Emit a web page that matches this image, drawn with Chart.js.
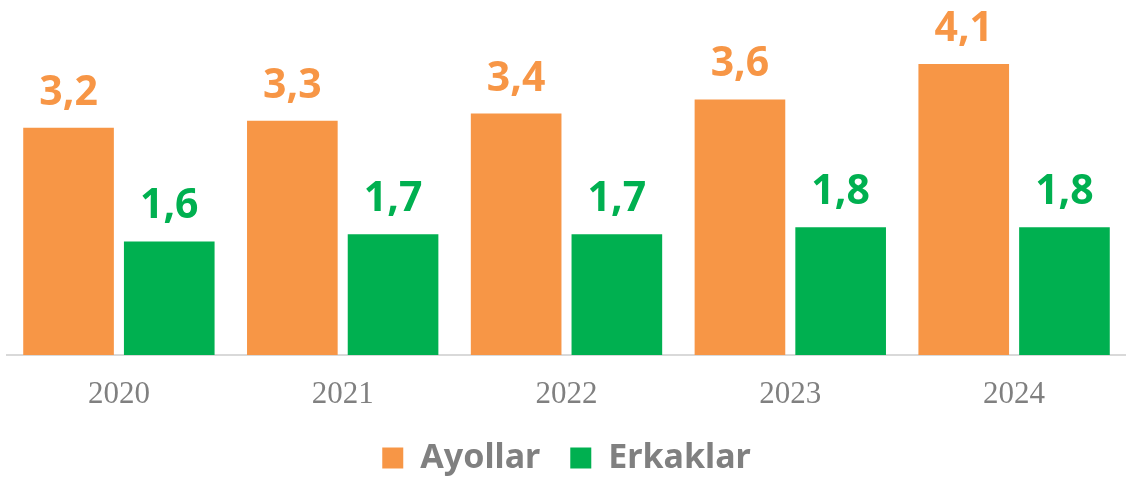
<!DOCTYPE html>
<html>
<head>
<meta charset="utf-8">
<script src="https://cdn.jsdelivr.net/npm/chart.js@4"></script>
<style>
  html, body { margin: 0; padding: 0; background: #fff; }
  #wrap { width: 1126px; height: 479px; }
</style>
</head>
<body>
<div id="wrap"><canvas id="myChart"></canvas></div>
<script>
var years = ['2020', '2021', '2022', '2023', '2024'];
var ayollar = [3.2, 3.3, 3.4, 3.6, 4.1];
var erkaklar = [1.6, 1.7, 1.7, 1.8, 1.8];

var orange = '#F79646';
var green = '#00B050';

// draws the value above each bar, with a decimal comma
var barLabels = {
    id: 'barLabels',
    afterDatasetsDraw: function (chart) {
        var ctx = chart.ctx;
        ctx.save();
        ctx.font = 'bold 41px "Noto Sans"';
        ctx.textAlign = 'center';
        ctx.textBaseline = 'alphabetic';
        chart.data.datasets.forEach(function (ds, i) {
            chart.getDatasetMeta(i).data.forEach(function (bar, j) {
                ctx.fillStyle = ds.backgroundColor;
                ctx.fillText(String(ds.data[j]).replace('.', ','), bar.x, bar.y - 23);
            });
        });
        ctx.restore();
    }
};

var ctx = document.getElementById('myChart').getContext('2d');
var myChart = new Chart(ctx, {
    type: 'bar',
    data: {
        labels: years,
        datasets: [{
            label: 'Ayollar',
            data: ayollar,
            backgroundColor: orange,
            borderWidth: 0
        }, {
            label: 'Erkaklar',
            data: erkaklar,
            backgroundColor: green,
            borderWidth: 0
        }]
    },
    options: {
        responsive: true,
        maintainAspectRatio: false,
        animation: { duration: 0 },
        layout: { padding: { left: 7, right: 0, top: 0, bottom: -6 } },
        categoryPercentage: 0.9,
        barPercentage: 0.9,
        scales: {
            y: { display: false, min: 0, max: 5 },
            x: {
                grid: { display: false, drawTicks: false, tickLength: 0 },
                border: { display: true, color: '#d9d9d9', width: 2 },
                ticks: {
                    color: '#808080',
                    padding: 21,
                    font: { family: '"Liberation Serif"', size: 31 }
                },
                afterFit: function (scale) { scale.height = 56; }
            }
        },
        plugins: {
            tooltip: { enabled: false },
            legend: {
                position: 'bottom',
                labels: {
                    color: '#808080',
                    boxWidth: 21,
                    boxHeight: 21,
                    padding: 30,
                    font: { family: '"Noto Sans"', size: 34, weight: 'bold' }
                }
            }
        }
    },
    plugins: [barLabels]
});
</script>
</body>
</html>
